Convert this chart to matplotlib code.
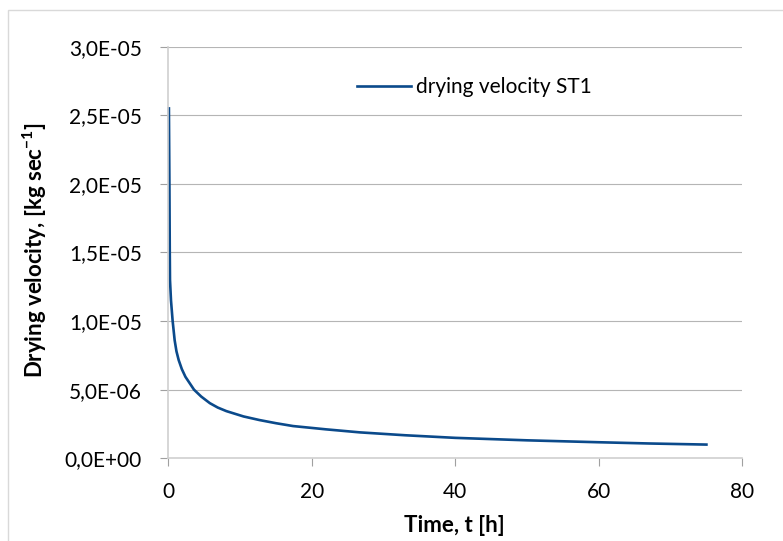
import matplotlib
matplotlib.use("Agg")
import matplotlib.pyplot as plt
from matplotlib.ticker import FuncFormatter
from matplotlib.patches import Rectangle

# Data
time_h = [0.1, 0.17, 0.22, 0.25, 0.39, 0.62, 0.9, 1.15, 1.46, 1.9, 2.4, 3.6,
          4.6, 5.8, 6.9, 8.1, 10.5, 12.7, 15.0, 17.4, 22.0, 26.7, 33.0, 40.0,
          50.0, 60.0, 67.0, 75.0]
velocity = [2.55e-5, 2.0e-5, 1.5e-5, 1.3e-5, 1.15e-5, 1.0e-5, 8.6e-6, 7.8e-6,
            7.16e-6, 6.5e-6, 5.94e-6, 5.0e-6, 4.5e-6, 4.02e-6, 3.7e-6, 3.44e-6,
            3.05e-6, 2.79e-6, 2.56e-6, 2.35e-6, 2.11e-6, 1.89e-6, 1.68e-6,
            1.49e-6, 1.31e-6, 1.17e-6, 1.08e-6, 1.0e-6]

series_label = "drying velocity ST1"
x_label = "Time, t [h]"
y_label = "Drying velocity, [kg sec$^{\\mathregular{-1}}$]"
x_ticks = [0, 20, 40, 60, 80]
y_ticks = [0, 5e-6, 1e-5, 1.5e-5, 2e-5, 2.5e-5, 3e-5]

plt.rcParams['font.family'] = ['Lato', 'DejaVu Sans']

W, H = 783, 541
fig = plt.figure(figsize=(W / 100, H / 100), dpi=100)

x0, x1 = 168.2, 742.3
y0, y1 = 458.3, 46.7
ax = fig.add_axes([x0 / W, 1 - y0 / H, (x1 - x0) / W, (y0 - y1) / H])

line_color = '#0b4a8b'
ax.plot(time_h, velocity, color=line_color, lw=1.9, label=series_label,
        solid_joinstyle='round', clip_on=False)

ax.set_xlim(0, 80)
ax.set_ylim(0, 3e-5)
ax.set_xticks(x_ticks)
ax.set_yticks(y_ticks)


def fmt(v, pos):
    if v == 0:
        return "0,0E+00"
    s = "%.1E" % v
    mant, exp = s.split("E")
    return mant.replace(".", ",") + "E" + exp


ax.yaxis.set_major_formatter(FuncFormatter(fmt))
ax.xaxis.set_major_formatter(FuncFormatter(lambda v, p: "%d" % v))

ax.grid(axis='y', color='#b5b5b5', lw=0.8)
ax.set_axisbelow(True)
for s in ['top', 'right']:
    ax.spines[s].set_visible(False)
for s in ['left', 'bottom']:
    ax.spines[s].set_color('#d0d0d0')
    ax.spines[s].set_linewidth(1.2)

ax.tick_params(axis='y', direction='out', length=6, width=0.8, color='#a0a0a0',
               labelsize=15, pad=13)
ax.tick_params(axis='x', direction='out', length=6, width=0.8, color='#a0a0a0',
               labelsize=15, pad=11)

fig.text(454.7 / W, 1 - 525 / H, x_label, ha='center', va='center',
         fontsize=16, fontweight='bold')
fig.text(35 / W, 1 - 250 / H, y_label, ha='center', va='center',
         rotation=90, fontsize=16, fontweight='bold')

leg = ax.legend(loc='upper left', bbox_to_anchor=((357 - x0) / (x1 - x0), (y0 - 77) / (y0 - y1)),
                frameon=False, fontsize=15, handlelength=2.6, handletextpad=0.25,
                borderaxespad=0, borderpad=0)

fig.patches.append(Rectangle((8 / W, -0.1), 1.2, 1 - 9.7 / H + 0.1,
                             transform=fig.transFigure, fill=False,
                             edgecolor='#d9d9d9', lw=1.0))

fig.savefig("out.png", dpi=100)
